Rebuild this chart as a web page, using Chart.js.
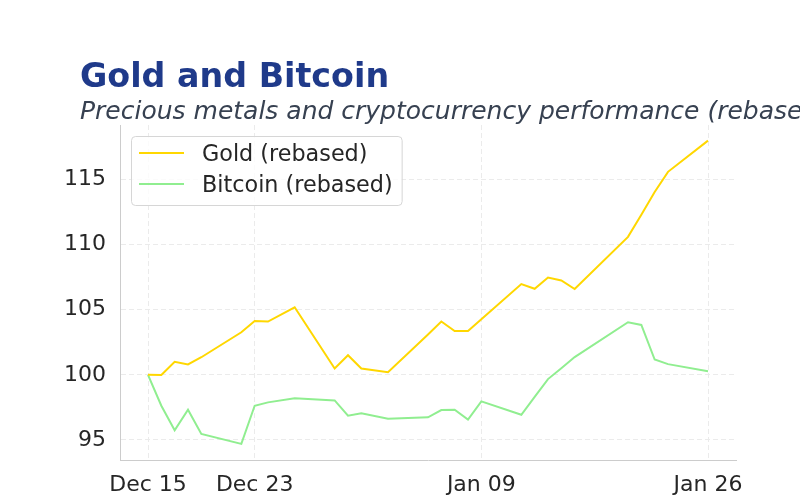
<!DOCTYPE html>
<html>
<head>
<meta charset="utf-8">
<script src="https://cdn.jsdelivr.net/npm/chart.js@4.4.1/dist/chart.umd.min.js"></script>
<style>
  html, body { margin: 0; padding: 0; background: #fff; }
  #wrap { width: 800px; height: 500px; }
</style>
</head>
<body>
<div id="wrap"><canvas id="myChart" width="800" height="500"></canvas></div>
<script>
// trading days
let fechas = ['2025-12-15','2025-12-16','2025-12-17','2025-12-18','2025-12-19','2025-12-22','2025-12-23','2025-12-24','2025-12-26',
  '2025-12-29','2025-12-30','2025-12-31','2026-01-02','2026-01-05','2026-01-06','2026-01-07','2026-01-08','2026-01-09',
  '2026-01-12','2026-01-13','2026-01-14','2026-01-15','2026-01-16','2026-01-20','2026-01-21','2026-01-22','2026-01-23','2026-01-26'];
let InfoGold = [100.0, 99.98, 101.0, 100.8, 101.35, 103.27, 104.14, 104.09, 105.19,
  100.48, 101.5, 100.48, 100.2, 103.1, 104.1, 103.37, 103.37, 104.27,
  106.97, 106.61, 107.48, 107.25, 106.59, 110.6, 112.3, 114.05, 115.6, 118.0];
let InfoBitcoin = [100.0, 97.62, 95.73, 97.32, 95.45, 94.69, 97.62, 97.88, 98.19,
  98.03, 96.86, 97.04, 96.63, 96.73, 97.29, 97.32, 96.55, 97.96,
  96.93, 98.3, 99.67, 100.5, 101.36, 104.04, 103.83, 101.17, 100.82, 100.28];
let tickFechas = ['2025-12-15','2025-12-23','2026-01-09','2026-01-26'];
let tickLabels = ['Dec 15','Dec 23','Jan 09','Jan 26'];
let yTicks = [95, 100, 105, 110, 115];

let titulo = 'Gold and Bitcoin';
let subtitulo = 'Precious metals and cryptocurrency performance (rebased)';

// days from first date
function dia(s){
  return (Date.parse(s + 'T00:00:00Z') - Date.parse(fechas[0] + 'T00:00:00Z')) / 86400000;
}
let puntosGold = fechas.map((f, i) => ({x: dia(f), y: InfoGold[i]}));
let puntosBitcoin = fechas.map((f, i) => ({x: dia(f), y: InfoBitcoin[i]}));
let tickDias = tickFechas.map(dia);

let fuente = 'DejaVu Sans, sans-serif';

let tituloPlugin = {
  id: 'tituloPlugin',
  afterDraw(chart){
    let ctx = chart.ctx;
    ctx.save();
    ctx.textAlign = 'left';
    ctx.textBaseline = 'alphabetic';
    ctx.fillStyle = '#1f3a8a';
    ctx.font = 'bold 33.3px ' + fuente;
    ctx.fillText(titulo, 80, 87);
    ctx.fillStyle = '#374151';
    ctx.font = 'italic 25px ' + fuente;
    ctx.fillText(subtitulo, 80, 119);
    ctx.restore();
  }
};

let leyendaPlugin = {
  id: 'leyendaPlugin',
  afterDatasetsDraw(chart){
    let ctx = chart.ctx;
    let area = chart.chartArea;
    let x0 = area.left + 11, y0 = area.top + 11;
    ctx.save();
    ctx.font = '22.3px ' + fuente;
    let anchoTexto = 0;
    chart.data.datasets.forEach(d => { anchoTexto = Math.max(anchoTexto, ctx.measureText(d.label).width); });
    let w = 8 + 45 + 18 + anchoTexto + 9;
    let h = 69;
    ctx.beginPath();
    ctx.roundRect(x0 + 0.5, y0 + 0.5, w, h, 4);
    ctx.fillStyle = 'rgba(255,255,255,0.8)';
    ctx.fill();
    ctx.strokeStyle = '#d6d6d6';
    ctx.lineWidth = 1;
    ctx.stroke();
    chart.data.datasets.forEach((d, i) => {
      let yy = y0 + 17 + i * 31;
      ctx.beginPath();
      ctx.moveTo(x0 + 8, yy);
      ctx.lineTo(x0 + 53, yy);
      ctx.strokeStyle = d.borderColor;
      ctx.lineWidth = 2;
      ctx.stroke();
      ctx.fillStyle = '#262626';
      ctx.textBaseline = 'middle';
      ctx.fillText(d.label, x0 + 71, yy + 2);
    });
    ctx.restore();
  }
};

var ctx = document.getElementById('myChart').getContext('2d');
var chart = new Chart(ctx, {
  type: 'line',
  data: {
    datasets: [
      {
        label: 'Gold (rebased)',
        data: puntosGold,
        borderColor: '#FFD700',
        backgroundColor: '#FFD700',
        borderWidth: 2,
        pointRadius: 0,
        tension: 0
      },
      {
        label: 'Bitcoin (rebased)',
        data: puntosBitcoin,
        borderColor: '#90EE90',
        backgroundColor: '#90EE90',
        borderWidth: 2,
        pointRadius: 0,
        tension: 0
      }
    ]
  },
  options: {
    responsive: false,
    animation: false,
    layout: { padding: { top: 125, right: 64, left: 0, bottom: 0 } },
    plugins: {
      legend: { display: false },
      title: { display: false },
      tooltip: { enabled: false }
    },
    scales: {
      x: {
        type: 'linear',
        min: -2.1,
        max: 44.1,
        afterBuildTicks(scale){ scale.ticks = tickDias.map(v => ({value: v})); },
        afterFit(scale){ scale.height = 40; },
        ticks: {
          autoSkip: false,
          maxRotation: 0,
          padding: 12,
          color: '#262626',
          font: { family: fuente, size: 22 },
          callback: (v) => tickLabels[tickDias.indexOf(v)]
        },
        grid: { color: '#ebebeb', lineWidth: 1, drawTicks: false },
        border: { display: true, color: '#cccccc', width: 1, dash: [5, 3] }
      },
      y: {
        min: 93.45,
        max: 119.2,
        afterBuildTicks(scale){ scale.ticks = yTicks.map(v => ({value: v})); },
        afterFit(scale){ scale.width = 120; },
        ticks: {
          padding: 14,
          color: '#262626',
          font: { family: fuente, size: 22 }
        },
        grid: { color: '#ebebeb', lineWidth: 1, drawTicks: false },
        border: { display: true, color: '#cccccc', width: 1, dash: [5, 3] }
      }
    }
  },
  plugins: [tituloPlugin, leyendaPlugin]
});
</script>
</body>
</html>
